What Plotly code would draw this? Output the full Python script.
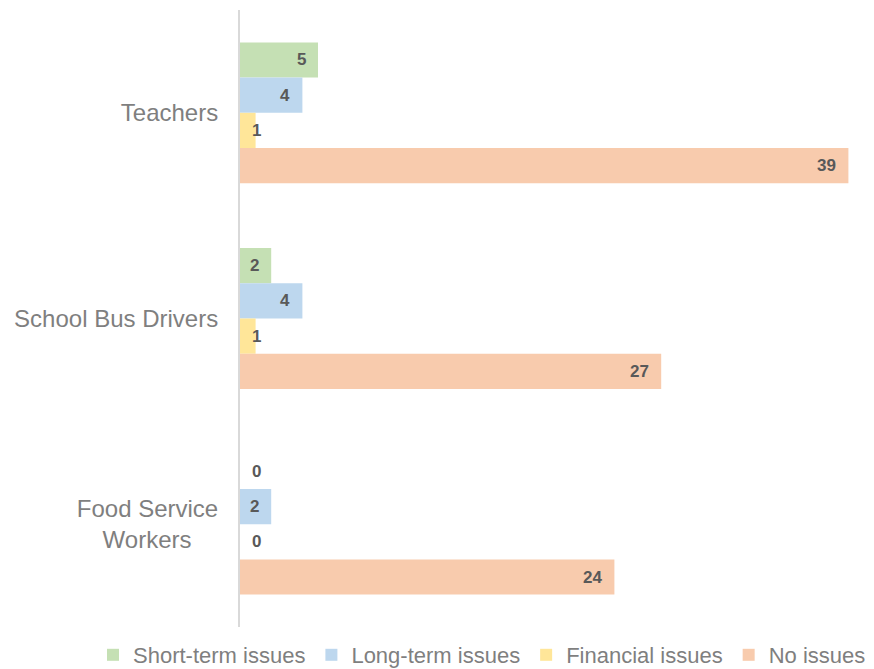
import plotly.graph_objects as go

categories = ["Teachers", "School Bus Drivers", "Food Service Workers"]
tick_labels = ["Teachers", "School Bus Drivers", "Food Service<br>Workers&nbsp;&nbsp;&nbsp;&nbsp;"]
series_names = ["Short-term issues", "Long-term issues", "Financial issues", "No issues"]
short_term = [5, 2, 0]
long_term = [4, 4, 2]
financial = [1, 1, 0]
no_issues = [39, 27, 24]
colors = ["#C5E0B4", "#BDD7EE", "#FFE699", "#F8CBAD"]

series_values = [short_term, long_term, financial, no_issues]

# page body has an 8px margin, so the figure is sized to fit the 874x669 window
W, H = 866, 661
margin = dict(l=232, r=10, t=2, b=42, autoexpand=False)
bargap = 0.315
plot_w = W - margin["l"] - margin["r"]
plot_h = H - margin["t"] - margin["b"]
cat_px = plot_h / len(categories)
bar_px = cat_px * (1 - bargap) / len(series_names)

fig = go.Figure()
annotations = []
for i, (name, vals, col) in enumerate(zip(series_names, series_values, colors)):
    fig.add_trace(go.Bar(
        y=categories, x=vals, name=name, orientation="h",
        marker=dict(color=col, line=dict(width=0)),
        hoverinfo="x+name",
    ))
    yshift = ((len(series_names) - 1) / 2 - i) * bar_px
    for cat, v in zip(categories, vals):
        if v >= 2:
            ann = dict(x=v, xanchor="right", xshift=-10)
        else:
            ann = dict(x=0, xanchor="left", xshift=10)
        ann.update(y=cat, yshift=yshift, yanchor="middle", text=f"<b>{v}</b>",
                   showarrow=False, font=dict(family="Liberation Sans, Arial", size=17, color="#595959"))
        annotations.append(ann)

legend_left_px = 84
legend_mid_px = 647

fig.update_layout(
    width=W, height=H, margin=margin,
    barmode="group", bargap=bargap, bargroupgap=0,
    plot_bgcolor="white", paper_bgcolor="white",
    font=dict(family="Liberation Sans, Arial", color="#7F7F7F"),
    xaxis=dict(range=[0, 40], showgrid=False, zeroline=False, showticklabels=False,
               showline=False, fixedrange=True),
    yaxis=dict(autorange="reversed", categoryorder="array", categoryarray=categories,
               tickvals=categories, ticktext=tick_labels,
               showgrid=False, zeroline=False, showline=True, linecolor="#D9D9D9", linewidth=2,
               ticks="outside", ticklen=15, tickcolor="rgba(0,0,0,0)",
               tickfont=dict(size=24, color="#7F7F7F")),
    legend=dict(orientation="h",
                x=(legend_left_px - margin["l"]) / plot_w, xanchor="left",
                y=-(legend_mid_px - (H - margin["b"])) / plot_h, yanchor="middle",
                font=dict(size=22, color="#7F7F7F"), traceorder="normal",
                itemwidth=30, indentation=1),
    annotations=annotations,
    showlegend=True,
)

fig.write_html("out.html")
